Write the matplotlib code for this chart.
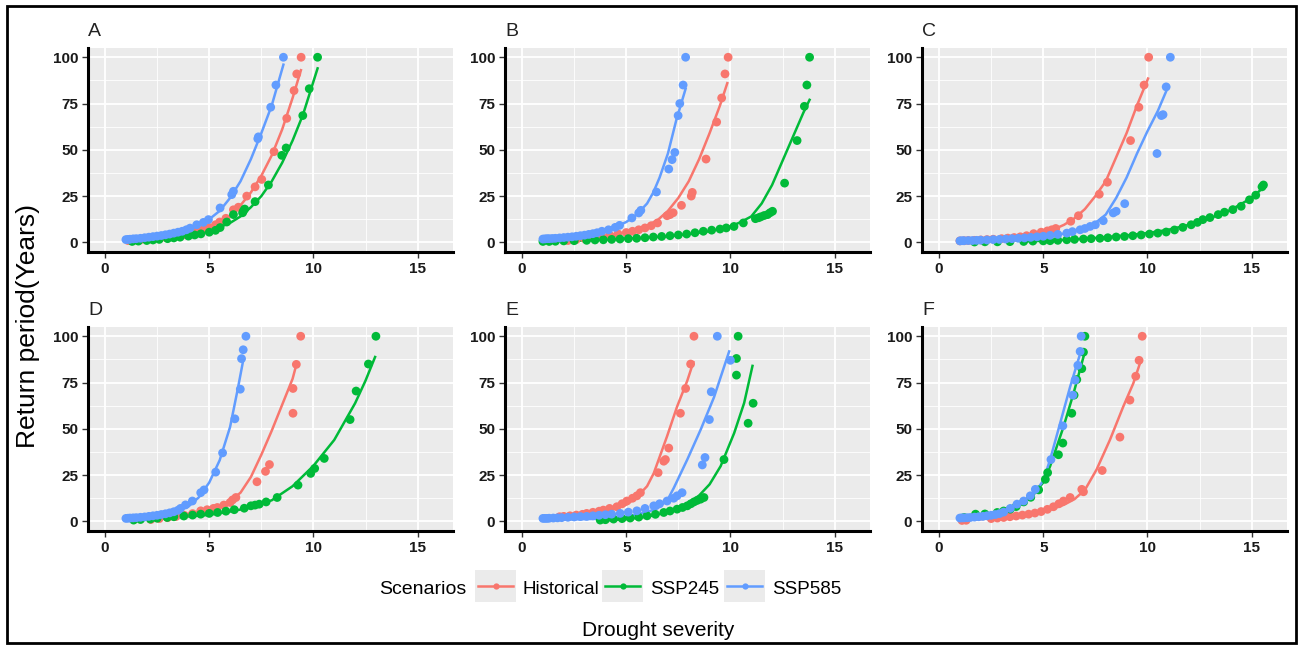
import matplotlib.pyplot as plt
from matplotlib.lines import Line2D
from matplotlib.patches import Rectangle

plt.rcParams['font.family'] = ['Liberation Sans', 'DejaVu Sans']

scenarios = ['Historical', 'SSP245', 'SSP585']
colors = ['#F8766D', '#00BA38', '#619CFF']
panel_labels = ['A', 'B', 'C', 'D', 'E', 'F']
x_ticks = [0, 5, 10, 15]
y_ticks = [0, 25, 50, 75, 100]

# ---- Panel A ----
a_hist_x = [1.1, 1.3, 1.5, 1.7, 2.0, 2.3, 2.6, 2.9, 3.2, 3.5, 3.8, 4.1, 4.4, 4.7, 5.0, 5.3, 5.5, 5.8, 6.16, 6.4, 6.8, 7.2, 7.52, 8.11, 8.72, 9.07, 9.2, 9.41]
a_hist_y = [1.0, 1.1, 1.3, 1.4, 1.7, 2.0, 2.3, 2.7, 3.1, 3.6, 4.2, 4.9, 5.8, 6.8, 8.0, 9.5, 11, 13, 17.6, 19, 25, 30, 34, 49, 67, 82, 91, 100]
a_hist_fx = [1.0, 2, 3, 4, 5, 5.5, 6, 6.5, 7, 7.5, 8, 8.5, 9, 9.4]
a_hist_fy = [0.8, 1.5, 2.5, 4.5, 8, 10.5, 14.5, 20, 27, 36, 47, 61, 78, 93]
a_245_x = [1.3, 1.6, 2.0, 2.3, 2.6, 3.0, 3.3, 3.6, 4.0, 4.3, 4.6, 5.0, 5.3, 5.52, 5.84, 6.16, 6.6, 6.64, 6.7, 7.2, 7.84, 8.48, 8.69, 9.49, 9.8, 10.2]
a_245_y = [0.5, 0.7, 1.0, 1.3, 1.6, 2.0, 2.4, 2.8, 3.4, 4.0, 4.6, 5.5, 6.5, 8, 11, 15, 16, 17, 18, 22, 31, 47, 51, 68.5, 83, 100]
a_245_fx = [1.3, 2, 3, 4, 5, 6, 6.5, 7, 7.5, 8, 8.5, 9, 9.5, 10.2]
a_245_fy = [0.5, 1.0, 2, 3.5, 6, 10.5, 14, 19, 25, 33, 43, 55, 69, 94]
a_585_x = [1.0, 1.1, 1.2, 1.35, 1.5, 1.7, 1.9, 2.1, 2.3, 2.5, 2.7, 2.9, 3.1, 3.3, 3.5, 3.7, 3.9, 4.08, 4.4, 4.72, 4.96, 5.52, 6.08, 6.16, 7.33, 7.36, 7.95, 8.2, 8.56]
a_585_y = [1.5, 1.6, 1.7, 1.9, 2.0, 2.2, 2.5, 2.8, 3.1, 3.4, 3.7, 4.1, 4.5, 5.0, 5.5, 6.0, 6.8, 7.7, 9.5, 10.8, 12.3, 18.6, 25.8, 27.6, 56, 57, 73, 85, 100]
a_585_fx = [1.0, 2, 3, 4, 4.5, 5, 5.5, 6, 6.5, 7, 7.5, 8, 8.56]
a_585_fy = [1.3, 2.5, 4, 7.5, 9.5, 12.5, 17, 24, 33, 45, 59, 74, 96]

# ---- Panel B ----
b_hist_x = [2.2, 2.6, 3.0, 3.4, 3.8, 4.2, 4.6, 5.0, 5.3, 5.6, 5.9, 6.2, 6.5, 6.96, 7.1, 7.25, 7.65, 8.12, 8.17, 8.83, 9.34, 9.58, 9.74, 9.89]
b_hist_y = [1.0, 1.5, 2.0, 2.6, 3.2, 3.9, 4.6, 5.3, 6.0, 6.8, 7.8, 9, 10.5, 14.4, 15, 16, 20, 25, 27, 45, 65, 78, 91, 100]
b_hist_fx = [2, 3, 4, 5, 5.5, 6, 6.5, 7, 7.5, 8, 8.5, 9, 9.5, 9.85]
b_hist_fy = [1, 2, 3.5, 5.5, 7, 9, 12, 17, 24, 33, 45, 59, 74, 86]
b_245_x = [1.0, 1.3, 1.6, 2.0, 2.5, 3.1, 3.5, 3.9, 4.3, 4.7, 5.1, 5.5, 5.9, 6.3, 6.7, 7.1, 7.5, 7.9, 8.3, 8.7, 9.1, 9.5, 9.8, 10.17, 10.62, 11.2, 11.35, 11.46, 11.62, 11.78, 11.9, 12.02, 12.6, 13.2, 13.55, 13.67, 13.8]
b_245_y = [0.5, 0.5, 0.6, 0.8, 0.9, 1.1, 1.3, 1.4, 1.6, 1.8, 2.0, 2.2, 2.5, 2.9, 3.2, 3.6, 4.0, 4.5, 5.2, 6, 6.6, 7.2, 7.8, 8.6, 10.5, 12.8, 13.3, 13.8, 14.5, 15, 16, 16.8, 32, 55, 73.5, 85, 100]
b_245_fx = [1, 3, 5, 7, 8, 9, 10, 10.5, 11, 11.5, 12, 12.5, 13, 13.5, 13.8]
b_245_fy = [0.3, 1.0, 2.0, 3.3, 4.5, 6, 8.5, 11, 14, 21, 31, 44, 57, 70, 77]
b_585_x = [1.0, 1.1, 1.2, 1.3, 1.45, 1.6, 1.8, 2.0, 2.2, 2.4, 2.6, 2.8, 3.0, 3.2, 3.4, 3.6, 3.83, 4.15, 4.47, 4.68, 5.27, 5.6, 5.7, 6.45, 7.04, 7.2, 7.33, 7.49, 7.57, 7.73, 7.85]
b_585_y = [1.8, 1.9, 2.0, 2.0, 2.1, 2.2, 2.4, 2.6, 2.8, 3.0, 3.3, 3.6, 3.9, 4.3, 4.7, 5.2, 6, 6.8, 8.1, 9.2, 13.2, 15.9, 17.3, 27.2, 39.6, 44.7, 48.6, 68.5, 75, 85, 100]
b_585_fx = [1, 2, 3, 4, 4.5, 5, 5.5, 6, 6.3, 6.6, 7, 7.4, 7.85]
b_585_fy = [1.5, 2.5, 4, 6.5, 8.5, 11, 15, 21, 27, 35, 48, 66, 83]

# ---- Panel C ----
c_hist_x = [1.0, 1.2, 1.4, 1.7, 2.0, 2.3, 2.6, 3.0, 3.3, 3.6, 3.9, 4.2, 4.54, 4.9, 5.2, 5.41, 5.6, 6.32, 6.69, 7.69, 8.08, 9.19, 9.59, 9.84, 10.06]
c_hist_y = [0.8, 0.9, 1.0, 1.1, 1.3, 1.5, 1.7, 2.0, 2.3, 2.6, 3.0, 3.6, 4.7, 5.5, 6.2, 6.8, 7.5, 11.4, 14.4, 26, 32.5, 55, 73, 85, 100]
c_hist_fx = [1, 2, 3, 4, 5, 5.5, 6, 6.5, 7, 7.5, 8, 8.5, 9, 9.5, 10.03]
c_hist_fy = [0.7, 1.2, 2, 3.3, 5.5, 7, 9.5, 13, 18, 25, 33, 46, 59, 74, 88.5]
c_245_x = [1.7, 2.2, 2.8, 3.4, 4.06, 4.5, 5.0, 5.33, 5.7, 6.13, 6.5, 6.93, 7.3, 7.72, 8.1, 8.5, 8.9, 9.3, 9.7, 10.1, 10.5, 10.9, 11.3, 11.7, 12.1, 12.4, 12.66, 13.0, 13.4, 13.7, 14.1, 14.5, 14.9, 15.2, 15.5, 15.57]
c_245_y = [0.2, 0.3, 0.3, 0.4, 0.5, 0.7, 0.8, 0.9, 1.1, 1.4, 1.6, 1.8, 2.0, 2.2, 2.5, 2.9, 3.2, 3.6, 4.0, 4.5, 5.0, 5.6, 6.7, 8.1, 9.5, 10.8, 12.3, 13.4, 15, 16.3, 17.7, 19.5, 23, 25.5, 30, 31]
c_245_fx = [4, 5, 6, 7, 8, 9, 10, 11, 12, 13, 14, 15, 15.6]
c_245_fy = [0.5, 0.8, 1.3, 2, 2.8, 3.8, 5, 6.8, 9.5, 13, 17.5, 24, 30]
c_585_x = [1.0, 1.1, 1.2, 1.4, 1.6, 1.8, 2.0, 2.3, 2.6, 2.9, 3.2, 3.5, 3.8, 4.1, 4.4, 4.7, 5.0, 5.33, 5.7, 6.13, 6.4, 6.77, 7.0, 7.25, 7.5, 7.88, 8.36, 8.5, 8.91, 10.46, 10.67, 10.75, 10.9, 11.1]
c_585_y = [0.8, 0.9, 0.9, 1.0, 1.0, 1.1, 1.2, 1.3, 1.5, 1.6, 1.8, 2.0, 2.2, 2.4, 2.7, 3.0, 3.3, 3.8, 4.3, 5, 5.8, 6.8, 7.5, 8.6, 9.5, 11.7, 15.9, 16.8, 20.9, 48, 68.5, 69, 84, 100]
c_585_fx = [1, 3, 5, 6, 7, 7.5, 8, 8.5, 9, 9.5, 10, 10.5, 10.9]
c_585_fy = [0.5, 1.5, 3, 4.7, 8, 10.5, 15, 24, 35, 48, 60, 71, 81.6]

# ---- Panel D ----
d_hist_x = [2.2, 2.6, 3.0, 3.4, 3.8, 4.2, 4.59, 4.9, 5.2, 5.39, 5.7, 6.0, 6.12, 6.28, 7.29, 7.7, 7.89, 9.02, 9.02, 9.18, 9.39]
d_hist_y = [1.0, 1.5, 2.0, 2.6, 3.3, 4.2, 5.7, 6.3, 7.0, 7.5, 8.8, 10.2, 11.6, 12.9, 21.4, 27, 30.7, 58.4, 71.8, 84.8, 100]
d_hist_fx = [2, 3, 4, 5, 5.5, 6, 6.5, 7, 7.5, 8, 8.5, 9, 9.13]
d_hist_fy = [1, 2.3, 4, 6.5, 8.5, 11, 15.5, 24, 36, 49, 63, 77, 82.5]
d_245_x = [1.37, 1.7, 2.17, 2.5, 2.98, 3.3, 3.78, 4.2, 4.59, 5.0, 5.4, 5.8, 6.2, 6.68, 7.0, 7.2, 7.4, 7.73, 8.26, 9.26, 9.87, 10.06, 10.52, 11.76, 12.05, 12.64, 13.0]
d_245_y = [0.7, 1.0, 1.25, 1.7, 2.1, 2.5, 2.9, 3.4, 3.9, 4.3, 4.8, 5.5, 6.3, 7.1, 8.4, 8.8, 9.3, 10.5, 12.9, 19.6, 25.9, 28.6, 34, 55, 70.4, 85, 100]
d_245_fx = [1.3, 3, 5, 6, 7, 8, 9, 10, 11, 12, 12.5, 12.96]
d_245_fy = [0.3, 1.8, 3.5, 5.3, 7.5, 11.4, 19, 30, 44, 63.8, 76, 88.8]
d_585_x = [1.0, 1.1, 1.2, 1.35, 1.5, 1.7, 1.9, 2.1, 2.3, 2.5, 2.7, 2.9, 3.1, 3.3, 3.5, 3.62, 3.86, 4.19, 4.59, 4.75, 5.31, 5.64, 6.23, 6.49, 6.55, 6.63, 6.76]
d_585_y = [1.6, 1.7, 1.8, 1.9, 2.0, 2.2, 2.4, 2.7, 3.0, 3.3, 3.7, 4.1, 4.6, 5.2, 6, 7, 8.9, 11, 15.5, 17, 26.6, 37, 55.4, 71.4, 87.9, 92.7, 100]
d_585_fx = [1, 2, 3, 3.5, 4, 4.5, 5, 5.5, 6, 6.36, 6.63]
d_585_fy = [1.5, 2.5, 4, 5.7, 8, 13, 21, 33, 51, 71, 87]

# ---- Panel E ----
e_hist_x = [1.8, 2.0, 2.3, 2.6, 2.9, 3.1, 3.4, 3.7, 3.9, 4.2, 4.55, 4.8, 5.03, 5.3, 5.51, 5.68, 6.53, 6.8, 6.88, 7.04, 7.6, 7.85, 8.09, 8.25]
e_hist_y = [2.5, 2.7, 3, 3.4, 3.8, 4.3, 4.9, 5.5, 6.1, 7, 7.9, 9.5, 11, 12.5, 13.8, 15.5, 26.3, 32.5, 33.4, 39.6, 58.4, 71.8, 85, 100]
e_hist_fx = [2, 3, 4, 5, 5.5, 6, 6.32, 6.96, 7.44, 7.93, 8.22]
e_hist_fy = [2, 3, 5, 9, 13, 19, 26, 46, 62, 76, 86]
e_245_x = [3.75, 4.0, 4.39, 4.8, 5.19, 5.6, 6.0, 6.4, 6.8, 7.1, 7.44, 7.7, 7.93, 8.1, 8.25, 8.4, 8.57, 8.73, 9.69, 10.29, 10.29, 10.37, 10.85, 11.09]
e_245_y = [0.7, 0.9, 1.25, 1.5, 1.8, 2.3, 3, 3.8, 4.8, 5.6, 6.6, 7.5, 8.4, 9.5, 10.5, 11.3, 12, 12.9, 33.4, 79, 88, 100, 53, 63.8]
e_245_fx = [3.8, 5, 6, 7, 8, 8.5, 9, 9.53, 10.18, 10.66, 11.06]
e_245_fy = [0.3, 1.2, 2.5, 5, 10, 14, 20, 29.8, 47.7, 64, 84]
e_585_x = [1.0, 1.1, 1.2, 1.3, 1.5, 1.7, 1.9, 2.2, 2.5, 2.8, 3.1, 3.4, 3.7, 4.0, 4.3, 4.71, 5.1, 5.51, 5.9, 6.32, 6.6, 6.96, 7.28, 7.44, 7.68, 8.65, 8.78, 8.99, 9.08, 9.37, 10.0]
e_585_y = [1.6, 1.6, 1.6, 1.7, 1.8, 1.9, 2.0, 2.2, 2.4, 2.6, 2.7, 3.0, 3.3, 3.6, 3.9, 4.3, 5, 5.7, 7, 8.4, 9.5, 11, 12.5, 13.8, 15.5, 30.5, 34.5, 55, 70, 100, 87]
e_585_fx = [1, 3, 4, 5, 6, 6.5, 7, 7.28, 7.93, 8.57, 9.21, 9.94]
e_585_fy = [0.7, 1.2, 1.5, 2.5, 5, 7, 12, 18, 33.4, 49.5, 67, 91.8]

# ---- Panel F ----
f_hist_x = [1.1, 1.3, 2.5, 2.8, 3.1, 3.4, 3.7, 4.0, 4.3, 4.6, 4.9, 5.2, 5.49, 5.75, 5.97, 6.29, 6.85, 6.93, 7.83, 8.68, 9.16, 9.44, 9.6, 9.75]
f_hist_y = [0.5, 0.6, 1.5, 1.8, 2.1, 2.5, 2.9, 3.4, 3.9, 4.5, 5.3, 6.5, 7.9, 9.5, 11, 12.9, 17.3, 16, 27.5, 45.5, 65.5, 78.4, 87, 100]
f_hist_fx = [1, 2, 3, 4, 5, 6, 6.5, 7, 7.56, 8.2, 8.84, 9.32, 9.63]
f_hist_fy = [0.5, 1.2, 2, 3.3, 5, 9, 12, 17, 28, 44, 62, 74.5, 85]
f_245_x = [1.2, 1.75, 2.2, 2.79, 3.1, 3.42, 3.7, 4.06, 4.4, 4.78, 5.1, 5.21, 5.73, 5.94, 6.37, 6.48, 6.61, 6.85, 6.93, 7.0]
f_245_y = [2.1, 3.9, 4, 4.8, 5.6, 6.6, 8, 10.5, 13, 17, 22.7, 26.3, 36, 42.3, 58.4, 68.2, 76.6, 82.5, 91.4, 100]
f_245_fx = [1.2, 2, 3, 4, 4.5, 5, 5.33, 5.97, 6.45, 6.93]
f_245_fy = [1.5, 3, 5, 9.5, 14, 21, 29.8, 51, 69, 88.8]
f_585_x = [1.0, 1.1, 1.2, 1.35, 1.5, 1.7, 1.9, 2.1, 2.3, 2.5, 2.7, 2.9, 3.1, 3.42, 3.74, 4.06, 4.38, 4.62, 5.37, 5.94, 6.42, 6.53, 6.66, 6.77, 6.82]
f_585_y = [1.8, 1.9, 1.9, 2.0, 2.1, 2.3, 2.5, 2.7, 3.0, 3.3, 3.7, 4.2, 5, 7, 9.3, 11, 13.8, 17.3, 33.4, 51.6, 68.2, 76.3, 84.3, 91.8, 100]
f_585_fx = [1, 2, 3, 4, 4.5, 5, 5.33, 5.81, 6.29, 6.77]
f_585_fy = [1, 2.5, 5, 10, 14, 22, 33.4, 53, 72.7, 90.5]

panels = [
    [(a_hist_x, a_hist_y, a_hist_fx, a_hist_fy), (a_245_x, a_245_y, a_245_fx, a_245_fy), (a_585_x, a_585_y, a_585_fx, a_585_fy)],
    [(b_hist_x, b_hist_y, b_hist_fx, b_hist_fy), (b_245_x, b_245_y, b_245_fx, b_245_fy), (b_585_x, b_585_y, b_585_fx, b_585_fy)],
    [(c_hist_x, c_hist_y, c_hist_fx, c_hist_fy), (c_245_x, c_245_y, c_245_fx, c_245_fy), (c_585_x, c_585_y, c_585_fx, c_585_fy)],
    [(d_hist_x, d_hist_y, d_hist_fx, d_hist_fy), (d_245_x, d_245_y, d_245_fx, d_245_fy), (d_585_x, d_585_y, d_585_fx, d_585_fy)],
    [(e_hist_x, e_hist_y, e_hist_fx, e_hist_fy), (e_245_x, e_245_y, e_245_fx, e_245_fy), (e_585_x, e_585_y, e_585_fx, e_585_fy)],
    [(f_hist_x, f_hist_y, f_hist_fx, f_hist_fy), (f_245_x, f_245_y, f_245_fx, f_245_fy), (f_585_x, f_585_y, f_585_fx, f_585_fy)],
]

W, H = 1299, 646
fig = plt.figure(figsize=(W / 100, H / 100), dpi=100)

# panel boxes in pixels (left, top)
lefts = [88, 505, 922]
tops = [48, 327]
pw, ph = 365, 204

for i, (label, series) in enumerate(zip(panel_labels, panels)):
    r, c = divmod(i, 3)
    ax = fig.add_axes([lefts[c] / W, 1 - (tops[r] + ph) / H, pw / W, ph / H])
    ax.set_facecolor('#EBEBEB')
    for (px, py, fx, fy), col in zip(series, colors):
        ax.plot(fx, fy, color=col, lw=1.8, zorder=3)
        ax.scatter(px, py, s=40, color=col, edgecolors='none', zorder=4)
    ax.set_xlim(-0.82, 16.7)
    ax.set_ylim(-5.2, 105)
    ax.set_xticks(x_ticks)
    ax.set_yticks(y_ticks)
    ax.set_xticks([2.5, 7.5, 12.5], minor=True)
    ax.set_yticks([12.5, 37.5, 62.5, 87.5], minor=True)
    ax.grid(which='major', color='white', lw=1.3)
    ax.grid(which='minor', color='white', lw=0.6)
    ax.set_axisbelow(True)
    for s in ['top', 'right']:
        ax.spines[s].set_visible(False)
    for s in ['left', 'bottom']:
        ax.spines[s].set_linewidth(2.2)
        ax.spines[s].set_color('black')
    ax.tick_params(which='major', length=4, width=1, color='#333333', pad=3)
    ax.tick_params(which='minor', length=0)
    for t in ax.get_xticklabels() + ax.get_yticklabels():
        t.set_fontweight('bold')
        t.set_fontsize(11)
        t.set_color('#1a1a1a')
    ax.set_title(label, loc='left', fontsize=14, pad=9, color='#222222')

# axis titles
fig.text(28 / W, 1 - 326 / H, 'Return period(Years)', rotation=90, ha='center', va='center', fontsize=19)
fig.text(658 / W, 1 - 630 / H, 'Drought severity', ha='center', va='center', fontsize=15)

# legend drawn in figure space
fig.text(379 / W, 1 - 589 / H, 'Scenarios', ha='left', va='center', fontsize=14)
key_lefts = [475, 602, 724]
text_lefts = [523, 650, 772]
for name, col, kx, tx in zip(scenarios, colors, key_lefts, text_lefts):
    fig.add_artist(Rectangle((kx / W, 1 - 602 / H), 41 / W, 32 / H, transform=fig.transFigure,
                             facecolor='#EBEBEB', edgecolor='none'))
    fig.add_artist(Line2D([(kx + 3) / W, (kx + 38) / W], [1 - 586 / H, 1 - 586 / H], transform=fig.transFigure,
                          color=col, lw=1.8))
    fig.add_artist(Line2D([(kx + 20.5) / W], [1 - 586 / H], transform=fig.transFigure,
                          color=col, marker='o', markersize=4.5, markeredgewidth=0, ls='none'))
    fig.text(tx / W, 1 - 589 / H, name, ha='left', va='center', fontsize=13.5)

# outer frame
fig.add_artist(Rectangle((7 / W, 3 / H), 1289 / W, 637 / H, transform=fig.transFigure,
                         fill=False, edgecolor='black', lw=2))

fig.savefig('out.png', dpi=100)
